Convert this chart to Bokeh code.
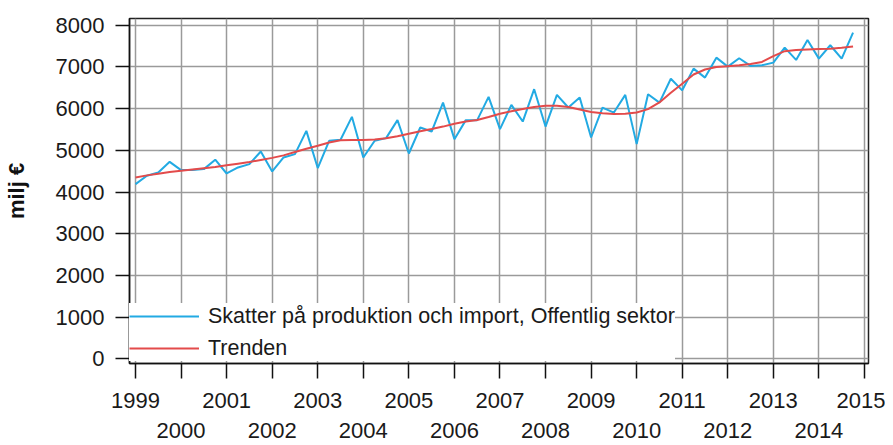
from bokeh.plotting import figure
from bokeh.models import Range1d, LinearAxis, FixedTicker, Legend, LegendItem
from bokeh.embed import file_html
from bokeh.resources import INLINE

# Quarterly data 1999Q1 - 2014Q4 (milj €)
start_year = 1999
skatter = [4190, 4390, 4470, 4725, 4527, 4530, 4550, 4775,
           4445, 4590, 4670, 4973, 4494, 4830, 4910, 5468,
           4575, 5230, 5253, 5804, 4830, 5230, 5293, 5725,
           4925, 5548, 5452, 6146, 5269, 5725, 5725, 6283,
           5509, 6091, 5691, 6467, 5571, 6331, 6027, 6267,
           5308, 6027, 5907, 6331, 5150, 6347, 6146, 6718,
           6440, 6961, 6745, 7224, 7008, 7209, 7025, 7042,
           7104, 7463, 7169, 7648, 7200, 7521, 7200, 7823]
trend = [4350, 4400, 4440, 4480, 4510, 4540, 4570, 4600,
         4640, 4680, 4720, 4770, 4820, 4880, 4960, 5040,
         5110, 5190, 5240, 5250, 5250, 5260, 5290, 5340,
         5400, 5460, 5510, 5570, 5640, 5690, 5730, 5800,
         5880, 5940, 5990, 6040, 6070, 6070, 6040, 5980,
         5920, 5890, 5870, 5880, 5910, 5990, 6150, 6380,
         6600, 6820, 6940, 7000, 7020, 7040, 7070, 7120,
         7260, 7380, 7410, 7420, 7430, 7440, 7460, 7490]
year_ticks = list(range(1999, 2016))
y_ticks = [0, 1000, 2000, 3000, 4000, 5000, 6000, 7000, 8000]
series_label = "Skatter på produktion och import, Offentlig sektor"
trend_label = "Trenden"
y_title = "milj €"

x = [start_year + i / 4 for i in range(len(skatter))]

FONT = "Liberation Sans"
TXT = "#1a1a1a"

p = figure(width=885, height=445, output_backend="svg", toolbar_location=None,
           x_range=Range1d(1998.868, 2015.089), y_range=Range1d(-113, 8163),
           min_border_left=129, min_border_right=17, min_border_top=18,
           min_border_bottom=82)
p.background_fill_color = "white"
p.border_fill_color = "white"
p.outline_line_color = "#222222"
p.outline_line_width = 1.5

r1 = p.line(x, skatter, line_color="#22aae3", line_width=2)
r2 = p.line(x, trend, line_color="#e34b4b", line_width=2)

# grids
p.xgrid.ticker = FixedTicker(ticks=year_ticks)
p.ygrid.ticker = FixedTicker(ticks=y_ticks)
for g in (p.xgrid, p.ygrid):
    g.grid_line_color = "#9a9a9a"
    g.grid_line_width = 1.5

# x axis: odd years row
xa = p.xaxis[0]
xa.ticker = FixedTicker(ticks=year_ticks)
xa.major_label_overrides = {yv: (str(yv) if yv % 2 == 1 else "") for yv in year_ticks}
xa.major_tick_out = 15
xa.major_tick_in = 0
xa.minor_tick_line_color = None
xa.major_tick_line_color = "#111111"
xa.major_tick_line_width = 1.5
xa.axis_line_color = "#111111"
xa.axis_line_width = 1.5
xa.major_label_standoff = 14
xa.major_label_text_font = FONT
xa.major_label_text_font_size = "22px"
xa.major_label_text_color = TXT

# second row: even years
xa2 = LinearAxis(ticker=FixedTicker(ticks=year_ticks),
                 major_label_overrides={yv: (str(yv) if yv % 2 == 0 else "") for yv in year_ticks})
xa2.axis_line_color = None
xa2.major_tick_line_color = None
xa2.minor_tick_line_color = None
xa2.major_tick_out = 0
xa2.major_tick_in = 0
xa2.major_label_standoff = 12
xa2.major_label_text_font = FONT
xa2.major_label_text_font_size = "22px"
xa2.major_label_text_color = TXT
p.add_layout(xa2, "below")

ya = p.yaxis[0]
ya.ticker = FixedTicker(ticks=y_ticks)
ya.major_tick_out = 14
ya.major_tick_in = 0
ya.minor_tick_line_color = None
ya.major_tick_line_color = "#111111"
ya.major_tick_line_width = 1.5
ya.axis_line_color = "#111111"
ya.axis_line_width = 1.5
ya.major_label_standoff = 11
ya.major_label_text_font = FONT
ya.major_label_text_font_size = "22px"
ya.major_label_text_color = TXT
ya.axis_label = y_title
ya.axis_label_text_font = FONT
ya.axis_label_text_font_style = "bold"
ya.axis_label_text_font_size = "22px"
ya.axis_label_text_color = "#111111"
ya.axis_label_standoff = 24

legend = Legend(items=[LegendItem(label=series_label, renderers=[r1]),
                       LegendItem(label=trend_label, renderers=[r2])],
                location=(0, 2), margin=0, padding=7, spacing=6,
                glyph_height=26, glyph_width=70, label_height=26,
                label_standoff=9, border_line_color=None,
                background_fill_color="white", background_fill_alpha=1.0,
                label_text_font=FONT, label_text_font_size="21.5px",
                label_text_color=TXT)
p.add_layout(legend)

open("out.html", "w").write(file_html(p, INLINE))
